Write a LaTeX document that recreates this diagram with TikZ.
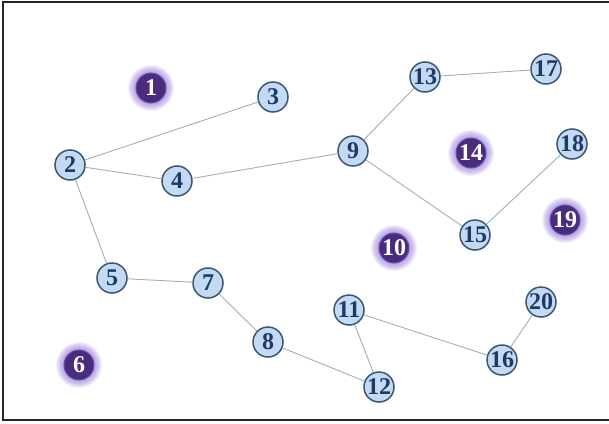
\documentclass[tikz,border=0pt]{standalone}
\usepackage{fontspec}
\setmainfont{Liberation Serif}
\definecolor{nfill}{HTML}{C2DAF4}
\definecolor{nline}{HTML}{3E5570}
\definecolor{ntext}{HTML}{1E3A64}
\definecolor{dfill}{HTML}{4A2C7C}
\definecolor{drim}{HTML}{6B4FB4}
\definecolor{dglow}{HTML}{9273D8}
\definecolor{eline}{HTML}{A0B0BE}
\tikzset{
  lnode/.style={circle,draw=nline,line width=1.5pt,fill=nfill,minimum size=30pt,inner sep=0pt,
    text=ntext,font=\fontsize{24}{24}\selectfont\bfseries},
  dnode/.style={circle,draw=drim,line width=1pt,fill=dfill,minimum size=30pt,inner sep=0pt,
    text=white,font=\fontsize{24}{24}\selectfont\bfseries},
  edge/.style={draw=eline,line width=0.9pt},
  frame/.style={draw=black!85,line width=2pt},
  halo/.style={fill=dglow,fill opacity=0.11}
}
\newcommand{\halonode}[1]{%
  \foreach \r in {16,17,18,19,20,21,22,23}{\fill[halo] (#1) circle (\r pt);}}
\begin{document}
\begin{tikzpicture}[x=1pt,y=-1pt]
\useasboundingbox (0,0) rectangle (609,423);
\fill[white] (0,0) rectangle (609,423);
\coordinate (tl) at (3,2);
\coordinate (bl) at (3,420);
\coordinate (tr) at (609,2);
\coordinate (br) at (609,420);
\draw[frame] (tr) -- (tl) -- (bl) -- (br);
% glows
\halonode{151,88}
\halonode{79,365}
\halonode{394,248}
\halonode{471,153}
\halonode{565,220}
% light nodes
\node[lnode] (n2) at (70,165) {2};
\node[lnode] (n3) at (273,97) {3};
\node[lnode] (n4) at (177,181) {4};
\node[lnode] (n5) at (112,278) {5};
\node[lnode] (n7) at (208,283) {7};
\node[lnode] (n8) at (268,342) {8};
\node[lnode] (n9) at (353,151) {9};
\node[lnode] (n11) at (349,310) {11};
\node[lnode] (n12) at (379,387) {12};
\node[lnode] (n13) at (425,77) {13};
\node[lnode] (n15) at (475,235) {15};
\node[lnode] (n16) at (502,360) {16};
\node[lnode] (n17) at (546,69) {17};
\node[lnode] (n18) at (572,144) {18};
\node[lnode] (n20) at (541,302) {20};
% dark nodes
\node[dnode] (n1) at (151,88) {1};
\node[dnode] (n6) at (79,365) {6};
\node[dnode] (n10) at (394,248) {10};
\node[dnode] (n14) at (471,153) {14};
\node[dnode] (n19) at (565,220) {19};
% edges
\draw[edge] (n2) -- (n3);
\draw[edge] (n2) -- (n4);
\draw[edge] (n4) -- (n9);
\draw[edge] (n9) -- (n13);
\draw[edge] (n13) -- (n17);
\draw[edge] (n9) -- (n15);
\draw[edge] (n15) -- (n18);
\draw[edge] (n2) -- (n5);
\draw[edge] (n5) -- (n7);
\draw[edge] (n7) -- (n8);
\draw[edge] (n8) -- (n12);
\draw[edge] (n12) -- (n11);
\draw[edge] (n11) -- (n16);
\draw[edge] (n16) -- (n20);
\end{tikzpicture}
\end{document}
